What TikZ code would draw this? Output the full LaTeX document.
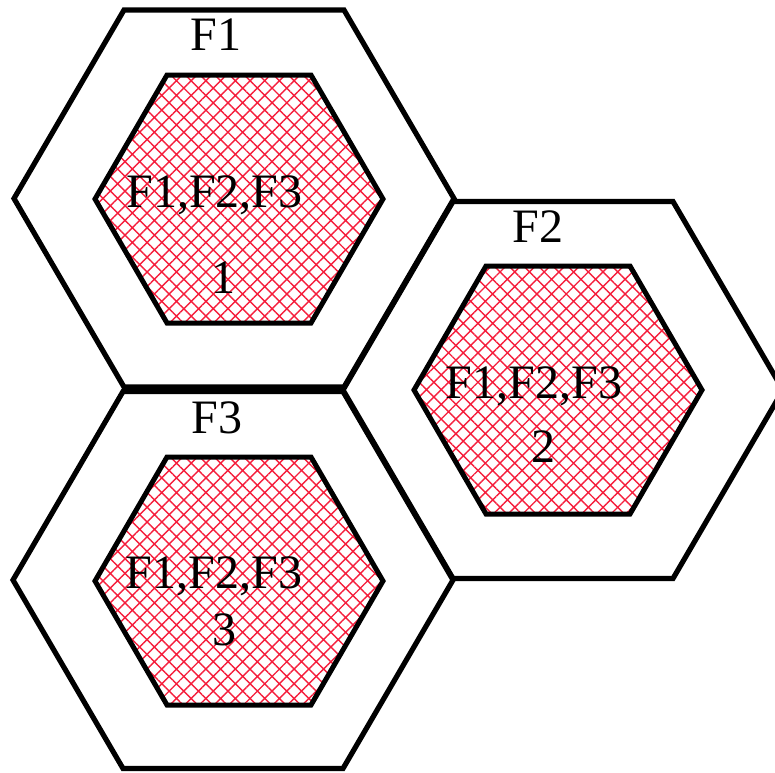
\documentclass[tikz,border=0pt]{standalone}
\usepackage{fontspec}
\setmainfont{Liberation Serif}
\usetikzlibrary{patterns.meta}
\definecolor{hatchred}{RGB}{245,30,60}
\tikzset{
  cell/.style={line width=2.6pt, line join=miter},
  core/.style={line width=2.5pt, pattern={Hatch[angle=45,distance=5.2pt,line width=0.7pt]}, pattern color=hatchred},
  lbl/.style={anchor=base, inner sep=0pt, font=\fontsize{24}{28}\selectfont}
}
\begin{document}
\begin{tikzpicture}[x=0.5pt,y=-0.5pt]
  \useasboundingbox (0,0) rectangle (775,772);
  % outer cells
  \foreach \n/\cx/\cy in {1/235/198.5, 2/564/390, 3/234/580}
    {
      \coordinate (cell\n) at (\cx,\cy);
      \draw[cell] (cell\n) ++(-221,0) -- ++(110,-188.5) -- ++(220,0) -- ++(110,188.5) -- ++(-110,188.5) -- ++(-220,0) -- cycle;
    }
  % inner cores, hatched
  \foreach \n/\cx/\cy in {1/239/199, 2/558/390, 3/239/581}
    {
      \coordinate (core\n) at (\cx,\cy);
      \draw[core] (core\n) ++(-144,0) -- ++(72,-124) -- ++(144,0) -- ++(72,124) -- ++(-72,124) -- ++(-144,0) -- cycle;
    }
  % labels
  \node[lbl] (f1) at (216,50) {F1};
  \node[lbl] (f2) at (538,242) {F2};
  \node[lbl] (f3) at (217,433) {F3};
  \node[lbl] (set1) at (214.5,207) {F1,F2,F3};
  \node[lbl] (num1) at (223,293) {1};
  \node[lbl] (set2) at (534,398) {F1,F2,F3};
  \node[lbl] (num2) at (543,462) {2};
  \node[lbl] (set3) at (214,588) {F1,F2,F3};
  \node[lbl] (num3) at (224,645) {3};
\end{tikzpicture}
\end{document}
